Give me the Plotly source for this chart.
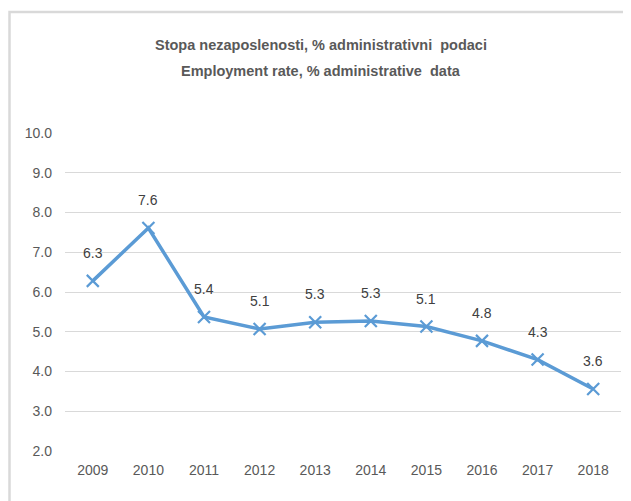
import plotly.graph_objects as go

years = ["2009", "2010", "2011", "2012", "2013", "2014", "2015", "2016", "2017", "2018"]
rate = [6.28, 7.61, 5.37, 5.07, 5.24, 5.27, 5.13, 4.77, 4.30, 3.56]
labels = ["6.3", "7.6", "5.4", "5.1", "5.3", "5.3", "5.1", "4.8", "4.3", "3.6"]
yticks = [2.0, 3.0, 4.0, 5.0, 6.0, 7.0, 8.0, 9.0, 10.0]
title_lines = ["Stopa nezaposlenosti, % administrativni  podaci",
               "Employment rate, % administrative  data"]

font_name = "Liberation Sans, Arial, sans-serif"
blue = "#5B9BD5"

trace = go.Scatter(
    x=years, y=rate, mode="lines+markers",
    line=dict(color=blue, width=3.5),
    marker=dict(symbol="x-thin", size=12, line=dict(color=blue, width=2.2), color=blue),
    hoverinfo="x+y",
)

# data labels sit well above the points, like the spreadsheet original
# (category index used for x, "2009" strings would be read as numbers)
notes = [dict(x=i, y=v, text=lb, showarrow=False, yanchor="middle", yshift=28,
              font=dict(family=font_name, size=14, color="#404040"))
         for i, (v, lb) in enumerate(zip(rate, labels))]

# two title lines, placed separately to get the wide line spacing
for ty, line in zip([1.2767, 1.195], title_lines):
    notes.append(dict(xref="paper", yref="paper", x=0.4604, y=ty, text="<b>%s</b>" % line,
                      showarrow=False, xanchor="center", yanchor="middle",
                      font=dict(family=font_name, size=14.5, color="#595959")))

layout = go.Layout(
    width=623, height=493,
    margin=dict(l=57, r=10, t=125, b=50),
    paper_bgcolor="white", plot_bgcolor="white",
    showlegend=False,
    xaxis=dict(
        type="category", range=[-0.5, 9.5], showgrid=False, zeroline=False,
        showline=False, ticks="", ticklabelstandoff=9,
        tickfont=dict(family=font_name, size=14, color="#595959"),
    ),
    yaxis=dict(
        range=[2, 10], tickvals=yticks, ticktext=["%.1f" % v for v in yticks],
        showgrid=True, gridcolor="#D9D9D9", gridwidth=1, zeroline=False,
        showline=False, ticks="", ticklabelstandoff=12,
        tickfont=dict(family=font_name, size=14, color="#595959"),
    ),
    annotations=notes,
    shapes=[dict(
        type="rect", xref="paper", yref="paper",
        x0=-0.0998, x1=1.2, y0=-0.3, y1=1.3805,
        line=dict(color="#D9D9D9", width=2.5), fillcolor="rgba(0,0,0,0)", layer="above",
    )],
)

fig = go.Figure(data=[trace], layout=layout)
fig.write_html("out.html")
